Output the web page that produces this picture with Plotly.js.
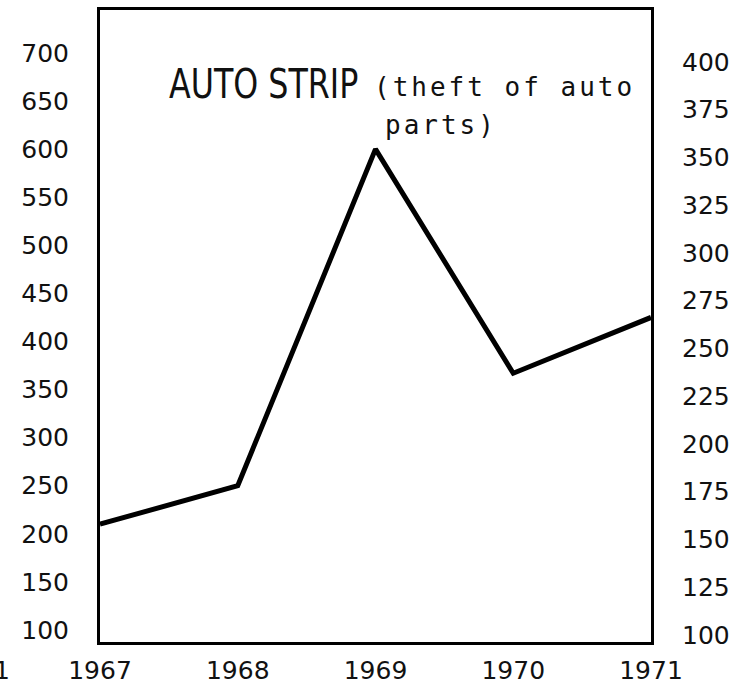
<!DOCTYPE html>
<html>
<head>
<meta charset="utf-8">
<script src="https://cdn.plot.ly/plotly-3.0.1.min.js"></script>
<style>
  html, body { margin: 0; padding: 0; background: #fff; }
  #chart { width: 751px; height: 690px; }
  text[style*="Sans Mono"] { letter-spacing: 3px; }
  g.annotation[data-index="0"] text.annotation-text {
    transform-box: fill-box; transform-origin: left center; transform: scale(0.86, 1);
  }
</style>
</head>
<body>
<div id="chart"></div>
<script>
// ---- data ----
const years = [1967, 1968, 1969, 1970, 1971];
const thefts = [210, 250, 600, 367, 425];
const leftTicks = [100, 150, 200, 250, 300, 350, 400, 450, 500, 550, 600, 650, 700];
const rightTicks = [100, 125, 150, 175, 200, 225, 250, 275, 300, 325, 350, 375, 400];
const titleMain = "AUTO STRIP";
const titleSub1 = "(theft of auto";
const titleSub2 = "parts)";

const tickFont = { family: "DejaVu Sans", size: 25, color: "#111" };
const subFont = { family: "DejaVu Sans Mono", size: 26, color: "#111" };

const traces = [
  {
    x: years, y: thefts, type: "scatter", mode: "lines",
    line: { color: "#000", width: 5 },
    cliponaxis: false, hoverinfo: "skip", showlegend: false
  },
  {
    x: [], y: [], type: "scatter", mode: "lines", yaxis: "y2",
    hoverinfo: "skip", showlegend: false
  }
];

const layout = {
  width: 751, height: 690,
  margin: { l: 100, r: 100, t: 10, b: 48 },
  paper_bgcolor: "#fff", plot_bgcolor: "#fff",
  showlegend: false,
  xaxis: {
    range: [1967, 1971], tickvals: years, ticktext: years.map(String),
    showgrid: false, zeroline: false, ticks: "",
    showline: true, mirror: true, linecolor: "#000", linewidth: 3,
    tickfont: tickFont, ticklabelstandoff: 4
  },
  yaxis: {
    range: [87.5, 744.7], tickvals: leftTicks, ticktext: leftTicks.map(String),
    showgrid: false, zeroline: false, ticks: "",
    showline: true, mirror: true, linecolor: "#000", linewidth: 3,
    tickfont: tickFont, ticklabelstandoff: 23
  },
  yaxis2: {
    overlaying: "y", side: "right", anchor: "x",
    range: [96.3, 427.2], tickvals: rightTicks, ticktext: rightTicks.map(String),
    showgrid: false, zeroline: false, ticks: "", showline: false,
    tickfont: tickFont, ticklabelstandoff: 30
  },
  annotations: [
    { text: titleMain, xref: "paper", yref: "paper", x: 0.1216, y: 0.883,
      xanchor: "left", yanchor: "middle", showarrow: false,
      font: { family: "Liberation Sans Narrow, DejaVu Sans Condensed", size: 41, color: "#111" } },
    { text: titleSub1, xref: "paper", yref: "paper", x: 0.4935, y: 0.878,
      xanchor: "left", yanchor: "middle", showarrow: false, font: subFont },
    { text: titleSub2, xref: "paper", yref: "paper", x: 0.514, y: 0.818,
      xanchor: "left", yanchor: "middle", showarrow: false, font: subFont },
    { text: "1", xref: "paper", yref: "paper", x: -0.16, y: -0.045,
      xanchor: "right", yanchor: "middle", showarrow: false, font: tickFont }
  ]
};

Plotly.newPlot("chart", traces, layout, { staticPlot: true, displayModeBar: false });
</script>
</body>
</html>
